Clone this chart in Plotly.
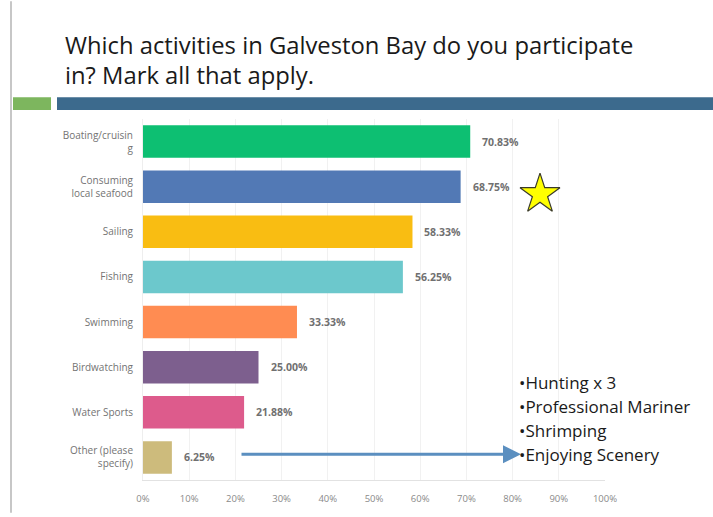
import plotly.graph_objects as go

# Survey results
categories = [
    "Boating/cruisin<br>g",
    "Consuming<br>local seafood",
    "Sailing",
    "Fishing",
    "Swimming",
    "Birdwatching",
    "Water Sports",
    "Other (please<br>specify)",
]
percent = [70.83, 68.75, 58.33, 56.25, 33.33, 25.00, 21.88, 6.25]
bar_colors = ["#0DBF72", "#5279B5", "#F9BD12", "#6CC8CC", "#FF8C52",
              "#7D5F8E", "#DD5B8C", "#CDBB7C"]
tick_vals = [0, 10, 20, 30, 40, 50, 60, 70, 80, 90, 100]
tick_text = [f"{v}%" for v in tick_vals]
other_answers = ["Hunting x 3", "Professional Mariner", "Shrimping", "Enjoying Scenery"]
title_lines = ["Which activities in Galveston Bay do you participate",
               "in? Mark all that apply."]

W, H = 713, 517
L, R, T, B = 143, 108, 119, 33
PW, PH = W - L - R, H - T - B


def px(x):
    return (x - L) / PW


def py(y):
    return (H - B - y) / PH


fig = go.Figure()
fig.add_trace(go.Bar(
    y=categories, x=percent, orientation="h",
    marker=dict(color=bar_colors, line=dict(width=0)),
    textposition="none",
    hoverinfo="skip",
))

# value labels placed just past each bar end
for cat, v in zip(categories, percent):
    fig.add_annotation(
        x=v, y=cat, xref="x", yref="y", text=f"<b>{v:.2f}%</b>",
        showarrow=False, xanchor="left", xshift=10,
        font=dict(family="Open Sans", size=10.5, color="#707070"),
    )

# star highlight
fig.add_trace(go.Scatter(
    x=[px(540)], y=[py(195)], xaxis="x2", yaxis="y2", mode="markers",
    marker=dict(symbol="star", size=30, color="#FFFF00",
                line=dict(color="#3a3a2a", width=1.2)),
    hoverinfo="skip", showlegend=False,
))

fig.update_layout(
    width=W, height=H,
    margin=dict(l=L, r=R, t=T, b=B, pad=0),
    paper_bgcolor="white", plot_bgcolor="white",
    showlegend=False, bargap=0.28,
    xaxis=dict(range=[0, 100], tickvals=tick_vals, ticktext=tick_text,
               showgrid=True, gridcolor="#f1f1f1", gridwidth=1,
               zeroline=False, showline=True, linecolor="#e2e2e2",
               ticks="outside", ticklen=10, tickcolor="rgba(0,0,0,0)",
               tickfont=dict(family="Open Sans", size=9.5, color="#8a8a8a")),
    yaxis=dict(autorange="reversed", showgrid=False, zeroline=False,
               showline=True, linecolor="#eeeeee", ticks="outside",
               ticklen=7, tickcolor="rgba(0,0,0,0)",
               tickfont=dict(family="Open Sans", size=10, color="#737373")),
    xaxis2=dict(range=[0, 1], domain=[0, 1], overlaying="x", visible=False),
    yaxis2=dict(range=[0, 1], domain=[0, 1], overlaying="y", visible=False),
)

# title text
for i, line in enumerate(title_lines):
    fig.add_annotation(
        x=px(63), y=py(44 + 31 * i), xref="paper", yref="paper",
        text=line, showarrow=False, xanchor="left", yanchor="middle",
        font=dict(family="Open Sans", size=23.8, color="#1a1a1a"),
    )

# header bars and frame line
fig.add_shape(type="rect", xref="paper", yref="paper",
              x0=px(13), x1=px(51), y0=py(110), y1=py(97),
              fillcolor="#7DB65E", line=dict(width=0), layer="above")
fig.add_shape(type="rect", xref="paper", yref="paper",
              x0=px(57), x1=px(713), y0=py(110), y1=py(97),
              fillcolor="#3C6A8D", line=dict(width=0), layer="above")
fig.add_shape(type="line", xref="paper", yref="paper",
              x0=px(11), x1=px(11), y0=py(0), y1=py(517),
              line=dict(color="#b5b5b5", width=1.5))

# arrow pointing to the write-in answers
fig.add_annotation(
    x=px(521), y=py(458), ax=px(240), ay=py(458),
    xref="x2", yref="y2", axref="x2", ayref="y2",
    text="", showarrow=True, arrowhead=2, arrowsize=1.2,
    arrowwidth=3, arrowcolor="#5B8FC0",
)

# write-in answers, one line each
for i, a in enumerate(other_answers):
    fig.add_annotation(
        x=px(517), y=py(385 + 24.3 * i), xref="paper", yref="paper",
        text="•" + a, showarrow=False, xanchor="left", yanchor="middle",
        font=dict(family="Open Sans", size=17, color="#1a1a1a"),
    )

fig.write_html("out.html")
